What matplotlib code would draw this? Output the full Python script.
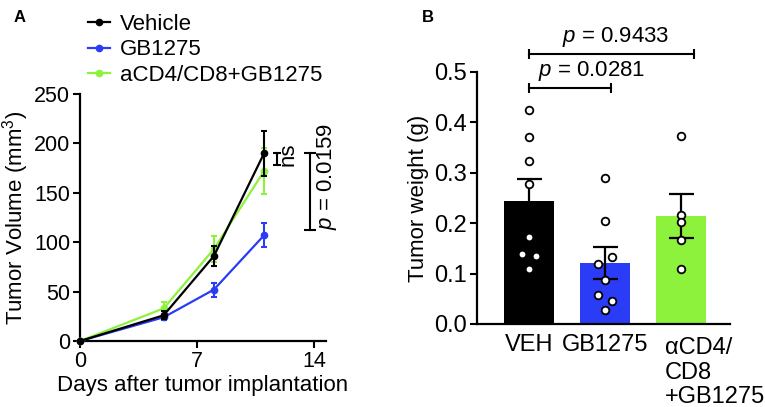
import numpy as np
import matplotlib
matplotlib.use("Agg")
from matplotlib import pyplot as plt
from matplotlib import transforms
from matplotlib.lines import Line2D

plt.rcParams['font.family'] = ['Liberation Sans', 'DejaVu Sans']
plt.rcParams['mathtext.fontset'] = 'custom'
plt.rcParams['mathtext.rm'] = 'Liberation Sans'
plt.rcParams['mathtext.it'] = 'Liberation Sans:italic'

# Panel A - tumor growth
days = [0, 5, 8, 11]
veh_vol = [0, 26, 86, 190]
veh_err = [0, 4, 10, 23]
gb_vol = [0, 24, 52, 107]
gb_err = [0, 3, 7, 12]
cd_vol = [0, 33, 93, 172]
cd_err = [0, 6, 13, 23]
series_names = ["Vehicle", "GB1275", "aCD4/CD8+GB1275"]

# Panel B - tumor weight
groups = ["VEH", "GB1275", "\u03b1CD4/\nCD8\n+GB1275"]
bar_mean = [0.244, 0.121, 0.214]
bar_sem = [0.044, 0.031, 0.044]
veh_pts = [0.424, 0.371, 0.324, 0.277, 0.172, 0.139, 0.135, 0.110]
veh_off = [0, 0, 0, 0, 0, -0.09, 0.09, 0]
gb_pts = [0.289, 0.204, 0.132, 0.119, 0.087, 0.058, 0.046, 0.028]
gb_off = [0, 0, 0.09, -0.09, 0, -0.09, 0.09, 0]
cd_pts = [0.373, 0.216, 0.203, 0.166, 0.110]
cd_off = [0, 0, 0, 0, 0]

black = '#000000'
blue = '#2a3cf5'
green = '#8cf23c'

W, H = 765, 407
fig = plt.figure(figsize=(W / 100, H / 100), dpi=100)

def px_axes(l, t, r, b):
    return fig.add_axes([l / W, 1 - b / H, (r - l) / W, (b - t) / H])

fs = 16
tfs = 15.5

# ---------- A ----------
ax = px_axes(80, 94, 326, 341)
for vals, errs, col, z in [(gb_vol, gb_err, blue, 3),
                           (cd_vol, cd_err, green, 4),
                           (veh_vol, veh_err, black, 5)]:
    ax.errorbar(days, vals, yerr=errs, color=col, lw=1.6, marker='o', ms=4.5,
                capsize=2.5, capthick=1.5, elinewidth=1.5, zorder=z, clip_on=False)
ax.set_xlim(0, 14.7)
ax.set_ylim(0, 250)
ax.set_xticks([0, 7, 14])
ax.set_yticks(range(0, 251, 50))
for s in ['top', 'right']:
    ax.spines[s].set_visible(False)
for s in ['left', 'bottom']:
    ax.spines[s].set_linewidth(1.6)
ax.tick_params(labelsize=tfs, width=1.5, length=5, pad=2)
ax.set_xlabel("Days after tumor implantation", fontsize=fs, labelpad=2)
ax.set_ylabel("Tumor Volume (mm$^3$)", fontsize=fs, labelpad=2)

# ns bracket
ax.plot([11.8, 11.8], [178, 190], color='k', lw=1.5, marker='_', ms=6, mew=1.5, clip_on=False)
ax.text(12.45, 189, "ns", rotation=90, fontsize=fs, ha='center', va='center')
# p bracket
ax.plot([13.75, 13.75], [112, 190], color='k', lw=1.5, marker='_', ms=8, mew=1.5, clip_on=False)
ax.text(14.75, 166, "$p$ = 0.0159", rotation=90, fontsize=fs, ha='center', va='center')

handles = [Line2D([], [], color=c, lw=1.6, marker='o', ms=4.5) for c in [black, blue, green]]
fig.legend(handles, series_names,
           loc='upper left', bbox_to_anchor=(88 / W, 1 - 14 / H), frameon=False,
           fontsize=fs, handlelength=1.0, handletextpad=0.45, labelspacing=0.2,
           borderpad=0, borderaxespad=0)
fig.text(14 / W, 1 - 17 / H, "A", fontsize=12, fontweight='bold', va='center')

# ---------- B ----------
bfs = 17
bx = px_axes(477, 72, 730, 324)
xpos = np.arange(len(groups))
bx.bar(xpos, bar_mean, width=0.66, color=[black, blue, green], zorder=1)
bx.errorbar(xpos, bar_mean, yerr=bar_sem, fmt='none', ecolor='k', elinewidth=1.6,
            capsize=9, capthick=1.6, zorder=2)
for i, (pts, off) in enumerate([(veh_pts, veh_off), (gb_pts, gb_off), (cd_pts, cd_off)]):
    bx.plot(np.array(off) + i, pts, 'o', ms=5.5, mfc='white', mec='k', mew=1.3,
            zorder=3, clip_on=False)
bx.set_xlim(-0.684, 2.645)
bx.set_ylim(0, 0.5)
bx.set_yticks(np.arange(0, 0.51, 0.1))
bx.set_yticklabels(["%.1f" % v for v in np.arange(0, 0.51, 0.1)])
for s in ['top', 'right']:
    bx.spines[s].set_visible(False)
for s in ['left', 'bottom']:
    bx.spines[s].set_linewidth(1.6)
bx.tick_params(axis='y', labelsize=bfs, width=1.5, length=5, pad=2)
bx.set_xticks(xpos)
bx.set_xticklabels(groups[:2] + [""])
bx.tick_params(axis='x', labelsize=bfs, length=0, pad=7)
shift = transforms.ScaledTranslation(-16 / 100, 0, fig.dpi_scale_trans)
bx.text(2, -0.026, groups[2], transform=bx.transData + shift,
        fontsize=bfs, ha='left', va='top', linespacing=1.15)
bx.set_ylabel("Tumor weight (g)", fontsize=fs, labelpad=4)

# significance brackets
bx.plot([0, 1.08], [0.469, 0.469], color='k', lw=1.5, marker='|', ms=7, mew=1.5, clip_on=False)
bx.text(0.82, 0.479, "$p$ = 0.0281", fontsize=fs, ha='center', va='bottom')
bx.plot([0, 2.17], [0.536, 0.536], color='k', lw=1.5, marker='|', ms=7, mew=1.5, clip_on=False)
bx.text(1.14, 0.546, "$p$ = 0.9433", fontsize=fs, ha='center', va='bottom')
fig.text(422 / W, 1 - 17 / H, "B", fontsize=12, fontweight='bold', va='center')

fig.savefig("out.png", dpi=100)
